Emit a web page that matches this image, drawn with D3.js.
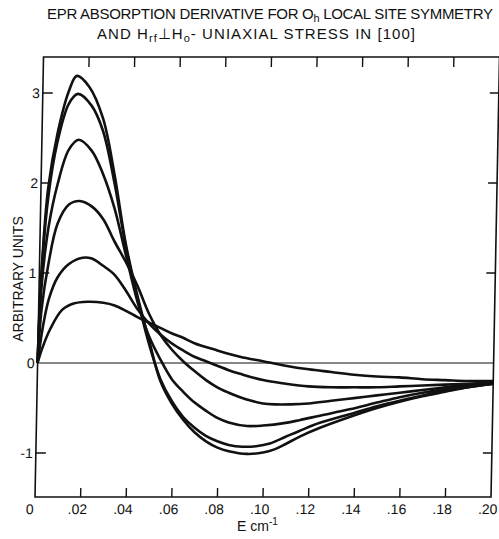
<!DOCTYPE html>
<html>
<head>
<meta charset="utf-8">
<title>EPR absorption derivative</title>
<script src="https://cdn.jsdelivr.net/npm/d3@7"></script>
<style>
  body { margin: 0; background: #fff; }
  text { font-family: "Liberation Sans", Arial, sans-serif; fill: #111; }
</style>
</head>
<body>
<svg width="499" height="539"></svg>
<script>
// axis ticks
var xTicks = [0, 0.02, 0.04, 0.06, 0.08, 0.10, 0.12, 0.14, 0.16, 0.18, 0.20];
var xTickLabels = ["0", ".02", ".04", ".06", ".08", ".10", ".12", ".14", ".16", ".18", ".20"];
var yTicks = [-1, 0, 1, 2, 3];
var yTickLabels = ["-1", "0", "1", "2", "3"];

// six curves, [E, value]
var curve1 = [[0,0],[0.001,1.05],[0.0032,1.95],[0.0068,2.55],[0.0114,3.02],[0.0148,3.19],[0.0203,3.07],[0.0266,2.72],[0.0321,2.1],[0.0377,1.32],[0.0432,0.75],[0.0486,0.26],[0.054,-0.2],[0.0592,-0.45],[0.0643,-0.63],[0.0694,-0.77],[0.0745,-0.87],[0.0796,-0.94],[0.0846,-0.98],[0.0926,-1.01],[0.0996,-0.995],[0.1046,-0.96],[0.1095,-0.9],[0.1154,-0.82],[0.1244,-0.72],[0.1373,-0.6],[0.1492,-0.5],[0.1591,-0.43],[0.1691,-0.37],[0.179,-0.32],[0.189,-0.27],[0.2,-0.23]];
var curve2 = [[0,0],[0.001,1.0],[0.0033,1.85],[0.0068,2.45],[0.0115,2.88],[0.0154,2.99],[0.0215,2.86],[0.0267,2.58],[0.0322,2.0],[0.0378,1.28],[0.0432,0.72],[0.0486,0.22],[0.054,-0.18],[0.0591,-0.42],[0.0643,-0.6],[0.0694,-0.72],[0.0744,-0.81],[0.0795,-0.87],[0.0845,-0.91],[0.0905,-0.93],[0.0965,-0.925],[0.1025,-0.895],[0.1094,-0.82],[0.1154,-0.755],[0.1243,-0.665],[0.1373,-0.57],[0.1492,-0.48],[0.1591,-0.42],[0.1691,-0.36],[0.179,-0.31],[0.189,-0.27],[0.2,-0.23]];
var curve3 = [[0,0],[0.0011,0.85],[0.0036,1.5],[0.0072,1.98],[0.0119,2.37],[0.0161,2.48],[0.0219,2.36],[0.0271,2.1],[0.0324,1.72],[0.0378,1.2],[0.0433,0.68],[0.0486,0.3],[0.0538,0.04],[0.059,-0.18],[0.0641,-0.32],[0.0692,-0.44],[0.0742,-0.53],[0.0793,-0.61],[0.0843,-0.66],[0.0924,-0.7],[0.0994,-0.695],[0.1093,-0.665],[0.1153,-0.635],[0.1243,-0.585],[0.1372,-0.515],[0.1492,-0.44],[0.1591,-0.38],[0.1691,-0.33],[0.179,-0.29],[0.189,-0.26],[0.2,-0.23]];
var curve4 = [[0,0],[0.0013,0.6],[0.0039,1.1],[0.0076,1.55],[0.0124,1.76],[0.0171,1.8],[0.0224,1.74],[0.0275,1.6],[0.0327,1.35],[0.0379,1.12],[0.0431,0.86],[0.0484,0.55],[0.0535,0.32],[0.0587,0.15],[0.0638,0.02],[0.0689,-0.09],[0.074,-0.19],[0.079,-0.27],[0.0841,-0.33],[0.0891,-0.38],[0.0941,-0.42],[0.0992,-0.45],[0.1042,-0.46],[0.1112,-0.46],[0.1192,-0.45],[0.1291,-0.42],[0.1391,-0.39],[0.1491,-0.36],[0.1591,-0.33],[0.169,-0.3],[0.179,-0.27],[0.189,-0.24],[0.2,-0.22]];
var curve5 = [[0,0],[0.002,0.4],[0.0045,0.72],[0.008,0.95],[0.0129,1.1],[0.0189,1.17],[0.0229,1.16],[0.0279,1.08],[0.033,0.98],[0.0382,0.8],[0.0433,0.6],[0.0485,0.44],[0.0535,0.32],[0.0586,0.22],[0.0637,0.14],[0.0687,0.07],[0.0738,0.02],[0.0788,-0.03],[0.0839,-0.08],[0.0889,-0.12],[0.099,-0.19],[0.109,-0.23],[0.119,-0.26],[0.129,-0.27],[0.139,-0.27],[0.149,-0.27],[0.159,-0.26],[0.169,-0.25],[0.179,-0.24],[0.189,-0.23],[0.2,-0.22]];
var curve6 = [[0,0],[0.002,0.17],[0.0051,0.37],[0.0103,0.59],[0.0153,0.66],[0.0213,0.68],[0.0283,0.67],[0.0333,0.64],[0.0383,0.58],[0.0434,0.51],[0.0484,0.45],[0.0535,0.39],[0.0585,0.33],[0.0636,0.28],[0.0686,0.22],[0.0787,0.14],[0.0887,0.07],[0.0988,0.02],[0.1088,-0.03],[0.1189,-0.07],[0.1289,-0.1],[0.1389,-0.13],[0.1489,-0.15],[0.1589,-0.16],[0.1689,-0.18],[0.1789,-0.19],[0.1889,-0.2],[0.2,-0.2]];
var curves = [curve1, curve2, curve3, curve4, curve5, curve6];

var svg = d3.select("svg");

var x = d3.scaleLinear().domain([0, 0.2]).range([37.6, 493.6]);
var y = d3.scaleLinear().domain([0, 1]).range([363, 273]);
var frameTop = 57, frameBot = 497;

// the original plate leans a little: skew the plot about the zero line
var lean = Math.atan(-8.5 / 440) * 180 / Math.PI;
var g = svg.append("g")
  .attr("transform", "translate(0," + y(0) + ") skewX(" + lean + ") translate(0," + (-y(0)) + ")");

// frame
g.append("rect")
  .attr("x", x(0)).attr("y", frameTop)
  .attr("width", x(0.2) - x(0)).attr("height", frameBot - frameTop)
  .attr("fill", "none").attr("stroke", "#111").attr("stroke-width", 1.6);

// zero line
g.append("line")
  .attr("x1", x(0)).attr("x2", x(0.2))
  .attr("y1", y(0)).attr("y2", y(0))
  .attr("stroke", "#111").attr("stroke-width", 1.1);

// inward ticks
var inner = xTicks.slice(1, -1);
g.selectAll(".tb").data(inner).enter().append("line")
  .attr("x1", d => x(d)).attr("x2", d => x(d))
  .attr("y1", frameBot).attr("y2", frameBot - 9)
  .attr("stroke", "#111").attr("stroke-width", 1.4);
g.selectAll(".tt").data(inner).enter().append("line")
  .attr("x1", d => x(d)).attr("x2", d => x(d))
  .attr("y1", frameTop).attr("y2", frameTop + 10)
  .attr("stroke", "#111").attr("stroke-width", 1.4);
var yt = yTicks.filter(d => d != 0);
g.selectAll(".tl").data(yt).enter().append("line")
  .attr("x1", x(0)).attr("x2", x(0) + 10)
  .attr("y1", d => y(d)).attr("y2", d => y(d))
  .attr("stroke", "#111").attr("stroke-width", 1.4);
g.selectAll(".tr").data(yt).enter().append("line")
  .attr("x1", x(0.2)).attr("x2", x(0.2) - 9)
  .attr("y1", d => y(d)).attr("y2", d => y(d))
  .attr("stroke", "#111").attr("stroke-width", 1.4);

// tick labels
g.selectAll(".xl").data(xTicks).enter().append("text")
  .attr("x", (d, i) => x(d) + (i == 0 ? -5 : -3))
  .attr("y", 514)
  .attr("text-anchor", "middle")
  .attr("font-size", 14)
  .text((d, i) => xTickLabels[i]);
g.selectAll(".yl").data(yTicks).enter().append("text")
  .attr("x", x(0) - 3)
  .attr("y", d => y(d) + 5)
  .attr("text-anchor", "end")
  .attr("font-size", 14)
  .text((d, i) => yTickLabels[i]);

// curves
var line = d3.line()
  .x(d => x(d[0]))
  .y(d => y(d[1]))
  .curve(d3.curveCatmullRom.alpha(0.5));
g.selectAll(".curve").data(curves).enter().append("path")
  .attr("d", line)
  .attr("fill", "none")
  .attr("stroke", "#111")
  .attr("stroke-width", 2.6)
  .attr("stroke-linejoin", "round");

// axis titles
svg.append("text")
  .attr("transform", "translate(23,279) rotate(-90)")
  .attr("text-anchor", "middle")
  .attr("font-size", 14)
  .text("ARBITRARY UNITS");

var xl = svg.append("text")
  .attr("x", 237).attr("y", 531)
  .attr("font-size", 14);
xl.append("tspan").text("E  cm");
xl.append("tspan").attr("dy", -6).attr("font-size", 10).text("-1");

// title
var t1 = svg.append("text")
  .attr("x", 47).attr("y", 19)
  .attr("font-size", 15)
  .attr("textLength", 446)
  .attr("lengthAdjust", "spacing");
t1.append("tspan").text("EPR ABSORPTION DERIVATIVE FOR O");
t1.append("tspan").attr("dy", 3).attr("font-size", 11).text("h");
t1.append("tspan").attr("dy", -3).text(" LOCAL  SITE  SYMMETRY");

var t2 = svg.append("text")
  .attr("x", 97).attr("y", 39)
  .attr("font-size", 15)
  .attr("textLength", 318)
  .attr("lengthAdjust", "spacing");
t2.append("tspan").text("AND H");
t2.append("tspan").attr("dy", 3).attr("font-size", 11).text("rf");
t2.append("tspan").attr("dy", -3).text("\u22a5H");
t2.append("tspan").attr("dy", 3).attr("font-size", 11).text("o");
t2.append("tspan").attr("dy", -3).text("- UNIAXIAL STRESS IN [100]");
</script>
</body>
</html>
